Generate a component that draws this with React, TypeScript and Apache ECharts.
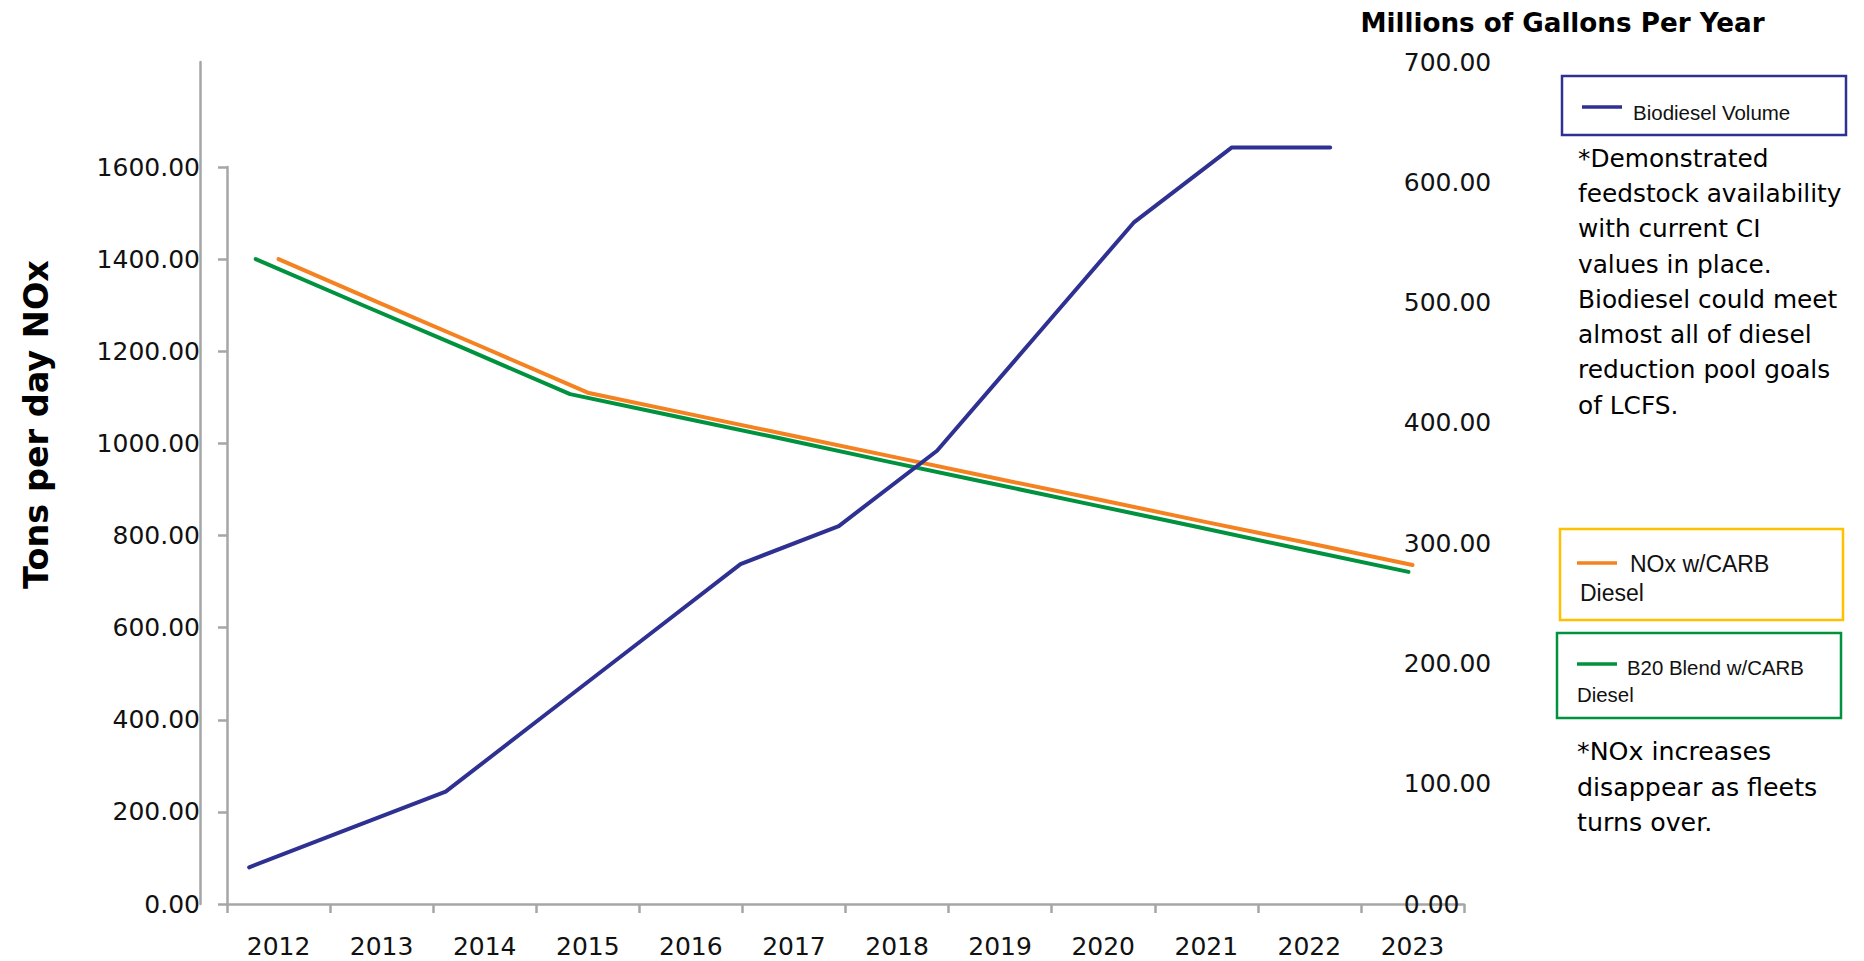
import React, { useEffect, useRef } from 'react';
import * as echarts from 'echarts';

const years = ['2012', '2013', '2014', '2015', '2016', '2017', '2018', '2019', '2020', '2021', '2022', '2023'];
// Right axis (Millions of Gallons Per Year)
const biodieselVolume = [30.5, 62, 93.4, 156.5, 219.5, 282.6, 314.2, 376.8, 471.6, 566.4, 629, 629];
// Left axis (Tons per day NOx)
const noxCarbDiesel = [1400, 1303, 1207, 1110, 1063, 1016, 969, 922, 876, 829, 783, 736];
const b20BlendCarbDiesel = [1400, 1302, 1205, 1107, 1059, 1011, 962, 914, 866, 818, 769, 721];

const leftTitle = 'Tons per day NOx';
const rightTitle = 'Millions of Gallons Per Year';
const note1 = '*Demonstrated\nfeedstock availability\nwith current CI\nvalues in place.\nBiodiesel could meet\nalmost all of diesel\nreduction pool goals\nof LCFS.';
const note2 = '*NOx increases\ndisappear as fleets\nturns over.';

const BLUE = '#2E3192';
const ORANGE = '#F58220';
const GREEN = '#00923F';
const YELLOW = '#FFC000';
const GRAY = '#A6A6A6';

export default function App() {
  const ref = useRef<HTMLDivElement>(null);

  useEffect(() => {
    const chart = echarts.init(ref.current as HTMLDivElement, null, { renderer: 'svg' });
    const tickFont = { fontFamily: 'DejaVu Sans', fontSize: 25, color: '#111' };
    const axisLineStyle = { color: GRAY, width: 2.5 };
    const fmt = (v: number) => v.toFixed(2);
    const legendFont = { fontFamily: 'Liberation Sans', fill: '#111' };

    const option: any = {
      animation: false,
      backgroundColor: '#ffffff',
      grid: [
        { left: 227, top: 167, width: 1237, height: 737 },
        { left: 200, top: 62, width: 1179.3, height: 842 },
        { left: 203.3, top: 167, width: 1257.6, height: 737 },
      ],
      xAxis: [
        {
          gridIndex: 0,
          type: 'category',
          data: years,
          boundaryGap: true,
          axisLine: { show: true, lineStyle: axisLineStyle },
          axisTick: { show: true, length: 9, lineStyle: axisLineStyle },
          axisLabel: { margin: 30, ...tickFont },
        },
        { gridIndex: 1, type: 'category', data: years, show: false },
        { gridIndex: 2, type: 'category', data: years, show: false },
      ],
      yAxis: [
        {
          gridIndex: 0,
          type: 'value',
          min: 0,
          max: 1600,
          interval: 200,
          position: 'left',
          name: leftTitle,
          nameLocation: 'middle',
          nameGap: 174,
          nameRotate: 90,
          nameTextStyle: {
            fontFamily: 'DejaVu Sans',
            fontWeight: 'bold',
            fontSize: 33.5,
            color: '#000',
            padding: [0, 0, 0, 222],
          },
          axisLine: { show: true, lineStyle: axisLineStyle },
          axisTick: { show: true, length: 9, lineStyle: axisLineStyle },
          axisLabel: { margin: 27, formatter: fmt, ...tickFont },
          splitLine: { show: false },
        },
        {
          gridIndex: 1,
          type: 'value',
          min: 0,
          max: 700,
          interval: 100,
          position: 'right',
          axisLine: { show: false },
          axisTick: { show: false },
          axisLabel: { margin: 24.5, formatter: fmt, ...tickFont },
          splitLine: { show: false },
        },
        {
          gridIndex: 1,
          type: 'value',
          min: 0,
          max: 700,
          interval: 100,
          position: 'left',
          axisLine: { show: true, lineStyle: axisLineStyle },
          axisTick: { show: false },
          axisLabel: { show: false },
          splitLine: { show: false },
        },
        { gridIndex: 2, type: 'value', min: 0, max: 1600, interval: 200, show: false },
      ],
      series: [
        {
          name: 'B20 Blend w/CARB Diesel',
          type: 'line',
          xAxisIndex: 2,
          yAxisIndex: 3,
          data: b20BlendCarbDiesel,
          showSymbol: false,
          lineStyle: { color: GREEN, width: 4, cap: 'round', join: 'round' },
          itemStyle: { color: GREEN },
          z: 3,
        },
        {
          name: 'NOx w/CARB Diesel',
          type: 'line',
          xAxisIndex: 0,
          yAxisIndex: 0,
          data: noxCarbDiesel,
          showSymbol: false,
          lineStyle: { color: ORANGE, width: 4, cap: 'round', join: 'round' },
          itemStyle: { color: ORANGE },
          z: 4,
        },
        {
          name: 'Biodiesel Volume',
          type: 'line',
          xAxisIndex: 1,
          yAxisIndex: 1,
          data: biodieselVolume,
          showSymbol: false,
          lineStyle: { color: BLUE, width: 4, cap: 'round', join: 'round' },
          itemStyle: { color: BLUE },
          z: 5,
        },
      ],
      graphic: [
        {
          type: 'text',
          x: 1562.5,
          y: 23,
          style: {
            text: rightTitle,
            align: 'center',
            verticalAlign: 'middle',
            fontFamily: 'DejaVu Sans',
            fontWeight: 'bold',
            fontSize: 26.2,
            fill: '#000',
          },
        },
        // Legend box: Biodiesel Volume
        { type: 'rect', shape: { x: 1562, y: 76, width: 284, height: 59 }, style: { fill: 'none', stroke: BLUE, lineWidth: 2.5 } },
        { type: 'line', shape: { x1: 1582, y1: 107, x2: 1622, y2: 107 }, style: { stroke: BLUE, lineWidth: 3.5 } },
        { type: 'text', x: 1633, y: 112, style: { text: 'Biodiesel Volume', verticalAlign: 'middle', fontSize: 20.5, ...legendFont } },
        // Note 1
        {
          type: 'text',
          x: 1578,
          y: 140.5,
          style: { text: note1, verticalAlign: 'top', fontSize: 24.8, lineHeight: 35.3, fontFamily: 'DejaVu Sans', fill: '#000' },
        },
        // Legend box: NOx w/CARB Diesel
        { type: 'rect', shape: { x: 1560, y: 529, width: 283, height: 91 }, style: { fill: 'none', stroke: YELLOW, lineWidth: 2.5 } },
        { type: 'line', shape: { x1: 1577, y1: 563, x2: 1617, y2: 563 }, style: { stroke: ORANGE, lineWidth: 3.5 } },
        { type: 'text', x: 1630, y: 564, style: { text: 'NOx w/CARB', verticalAlign: 'middle', fontSize: 23, ...legendFont } },
        { type: 'text', x: 1580, y: 593, style: { text: 'Diesel', verticalAlign: 'middle', fontSize: 23, ...legendFont } },
        // Legend box: B20 Blend w/CARB Diesel
        { type: 'rect', shape: { x: 1557, y: 633, width: 284, height: 85 }, style: { fill: 'none', stroke: GREEN, lineWidth: 2.5 } },
        { type: 'line', shape: { x1: 1577, y1: 664, x2: 1617, y2: 664 }, style: { stroke: GREEN, lineWidth: 3.5 } },
        { type: 'text', x: 1627, y: 668, style: { text: 'B20 Blend w/CARB', verticalAlign: 'middle', fontSize: 20.4, ...legendFont } },
        { type: 'text', x: 1577, y: 695, style: { text: 'Diesel', verticalAlign: 'middle', fontSize: 20.4, ...legendFont } },
        // Note 2
        {
          type: 'text',
          x: 1577,
          y: 734,
          style: { text: note2, verticalAlign: 'top', fontSize: 25.3, lineHeight: 35.5, fontFamily: 'DejaVu Sans', fill: '#000' },
        },
      ],
    };

    chart.setOption(option);
    return () => {
      chart.dispose();
    };
  }, []);

  return (
    <div
      ref={ref}
      style={{ position: 'fixed', left: 0, top: 0, width: 1864, height: 961, background: '#ffffff' }}
    />
  );
}
